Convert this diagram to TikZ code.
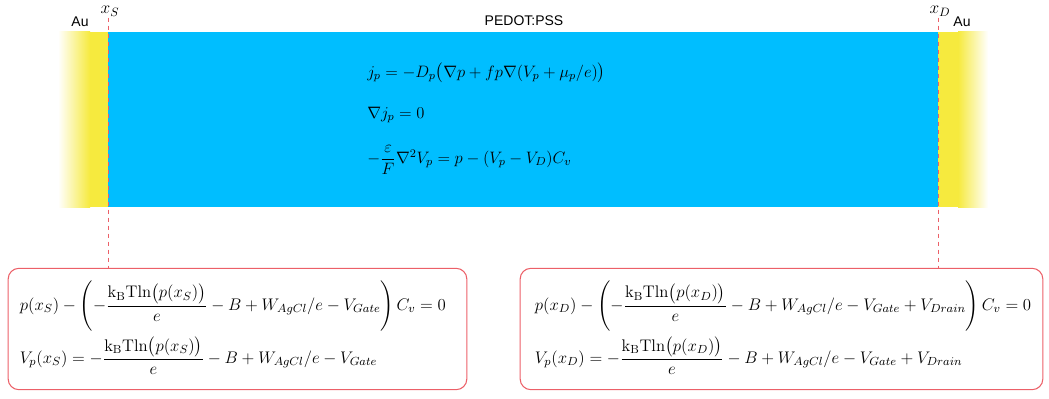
\RequirePackage{fix-cm}
\documentclass[tikz,border=0pt]{standalone}
\usepackage{amsmath,amssymb}
\usepackage{fontspec}
\setsansfont{Liberation Sans}
\usetikzlibrary{positioning,calc}
\definecolor{pedotblue}{RGB}{0,190,255}
\definecolor{auyellow}{RGB}{246,234,62}
\definecolor{bcred}{RGB}{236,96,104}

\begin{document}
\begin{tikzpicture}[
  x=0.75pt, y=-0.75pt,
  lbl/.style={font=\sffamily\fontsize{10.5}{12}\selectfont, inner sep=1pt},
  xlbl/.style={font=\fontsize{13}{14}\selectfont, inner sep=1pt},
  eqn/.style={font=\fontsize{12.4}{14}\selectfont, anchor=west, inner sep=0pt},
  bceqn/.style={font=\fontsize{12.6}{15}\selectfont, align=left, inner sep=0pt},
  bc/.style={draw=bcred, thick, rounded corners=8pt,
             minimum width=344pt, minimum height=91pt},
  iface/.style={draw=bcred, dashed, thin}
]
\useasboundingbox (0,0) rectangle (1049,399);
% Au contacts
\shade[left color=white, right color=auyellow] (58,32) rectangle (90,207);
\fill[auyellow] (90,32) rectangle (108,207);
\fill[auyellow] (938,32) rectangle (958,207);
\shade[left color=auyellow, right color=white] (958,32) rectangle (988,207);
% PEDOT:PSS channel
\fill[pedotblue] (108,32) rectangle (938,207);
\node[lbl] (pedot) at (524,21) {PEDOT:PSS};
\node[lbl] (auS) at (80,22) {Au};
\node[lbl] (auD) at (962,22) {Au};
% Interfaces
\node[xlbl] (xS) at (110,11) {$x_S$};
\node[xlbl] (xD) at (940,11) {$x_D$};
% Bulk equations
\node[eqn] (flux) at (367,73)
  {$j_p = -D_p\bigl(\nabla p + f p\nabla(V_p + \mu_p/e)\bigr)$};
\node[eqn] (cont) at (367,115) {$\nabla j_p = 0$};
\node[eqn] (pois) at (367,160)
  {$-\dfrac{\varepsilon}{F}\nabla^2 V_p = p - (V_p - V_D)C_v$};
% Boundary conditions
\node[bc] (bcS) at (237.5,329) {};
\node[bc, minimum width=392pt] (bcD) at (781.5,329) {};
\node[bceqn, anchor=west] (eqS) at ($(bcS.west)+(12,-1)$)
  {$p(x_S) - \left(-\dfrac{\mathrm{k_B T ln}\bigl(p(x_S)\bigr)}{e} - B + W_{AgCl}/e - V_{Gate}\right)C_v = 0$\\[3pt]
   $V_p(x_S) = -\dfrac{\mathrm{k_B T ln}\bigl(p(x_S)\bigr)}{e} - B + W_{AgCl}/e - V_{Gate}$};
\node[bceqn, anchor=west] (eqD) at ($(bcD.west)+(15,-1)$)
  {$p(x_D) - \left(-\dfrac{\mathrm{k_B T ln}\bigl(p(x_D)\bigr)}{e} - B + W_{AgCl}/e - V_{Gate} + V_{Drain}\right)C_v = 0$\\[3pt]
   $V_p(x_D) = -\dfrac{\mathrm{k_B T ln}\bigl(p(x_D)\bigr)}{e} - B + W_{AgCl}/e - V_{Gate} + V_{Drain}$};
\draw[iface] (xS.south -| 108,0) -- (bcS.north -| 108,0);
\draw[iface] (xD.south -| 938,0) -- (bcD.north -| 938,0);
\end{tikzpicture}
\end{document}
